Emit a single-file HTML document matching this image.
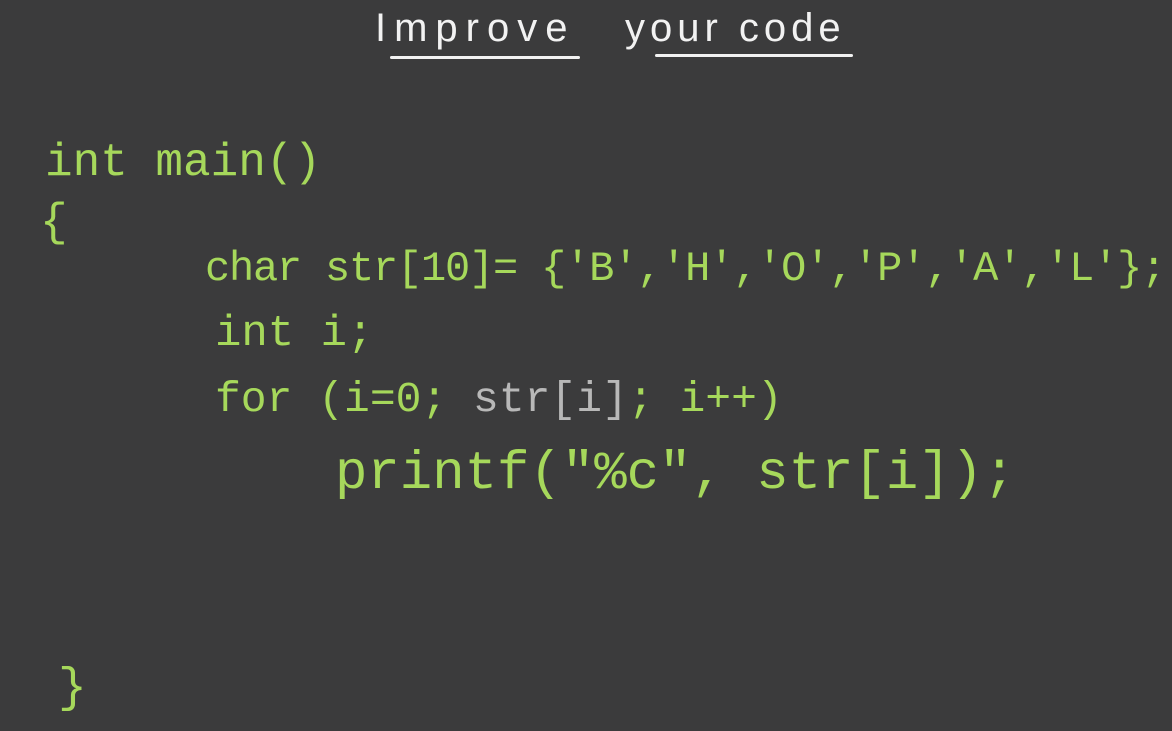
<!DOCTYPE html>
<html><head><meta charset="utf-8"><style>
html,body{margin:0;padding:0}
body{width:1172px;height:731px;background:#3b3b3c;position:relative;overflow:hidden;font-family:"Liberation Mono",monospace;}
.t{position:absolute;white-space:pre;color:#a6d85b;line-height:1}
.w{color:#f2f2f2}
.g{color:#b8b8b8}
.u{position:absolute;height:3px;background:#f2f2f2;border-radius:2px}
</style></head><body>
<div class="t w" style="left:375px;top:8px;font-size:40px;letter-spacing:8px;font-family:'Liberation Sans',sans-serif">Improve</div>
<div class="t w" style="left:625px;top:8px;font-size:40px;letter-spacing:5px;font-family:'Liberation Sans',sans-serif">your code</div>
<div class="u" style="left:390px;top:56px;width:190px"></div>
<div class="u" style="left:655px;top:54px;width:198px"></div>

<div class="t" style="left:45px;top:140px;font-size:46px;letter-spacing:0px">int main()</div>
<div class="t" style="left:40px;top:200px;font-size:46px">{</div>
<div class="t" style="left:205px;top:248px;font-size:42px;letter-spacing:-1.2px">char str[10]= {'B','H','O','P','A','L'};</div>
<div class="t" style="left:215px;top:312px;font-size:44px">int i;</div>
<div class="t" style="left:215px;top:378px;font-size:43px;letter-spacing:0px">for (i=0; <span class="g">str[i]</span>; i++)</div>
<div class="t" style="left:335px;top:448px;font-size:54px;letter-spacing:0px">printf("%c", str[i]);</div>
<div class="t" style="left:58px;top:665px;font-size:48px">}</div>
</body></html>
